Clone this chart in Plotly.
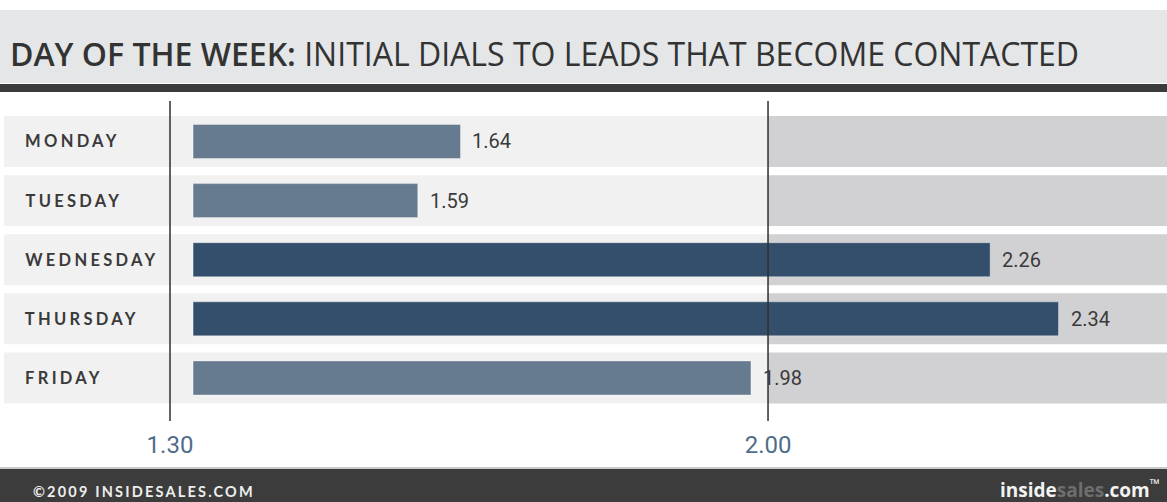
import plotly.graph_objects as go

# ---- data ----
days = ["MONDAY", "TUESDAY", "WEDNESDAY", "THURSDAY", "FRIDAY"]
values = [1.64, 1.59, 2.26, 2.34, 1.98]
value_labels = ["1.64", "1.59", "2.26", "2.34", "1.98"]
highlight = [False, False, True, True, False]
tick_values = [1.30, 2.00]
tick_labels = ["1.30", "2.00"]
title_bold = "DAY OF THE WEEK:"
title_rest = " INITIAL DIALS TO LEADS THAT BECOME CONTACTED"
footer_left = "©2009 INSIDESALES.COM"

# ---- layout constants ----
W, H = 1167, 502
BASE = 1.327
X_RANGE = [1.101, 2.467]
PLOT_BOTTOM_PX = 428
Y_RANGE = [4.846, -2.393]
LIGHT = "#667b8f"
DARK = "#344f6c"
DAY_SPACING = 3.3
FOOT_SPACING = 2.2

def px2x(px):
    return X_RANGE[0] + (X_RANGE[1] - X_RANGE[0]) * px / W

def py(px):
    return 1 - px / H

fig = go.Figure()
fig.add_trace(go.Bar(
    orientation="h",
    y=days,
    x=[v - BASE for v in values],
    base=BASE,
    width=0.575,
    marker=dict(color=[DARK if h else LIGHT for h in highlight],
                line=dict(color="rgba(255,255,255,0.35)", width=1)),
    hoverinfo="skip",
))

shapes = []
# title band
shapes.append(dict(type="rect", xref="paper", yref="paper", x0=0, x1=1, y0=py(83), y1=py(10),
                   fillcolor="#e4e6e7", line_width=0, layer="below"))
shapes.append(dict(type="rect", xref="paper", yref="paper", x0=0, x1=1, y0=py(92), y1=py(84),
                   fillcolor="#3b3b3b", line_width=0, layer="below"))
# footer band
shapes.append(dict(type="rect", xref="paper", yref="paper", x0=0, x1=1, y0=py(469), y1=py(467),
                   fillcolor="#c9c9c9", line_width=0, layer="below"))
shapes.append(dict(type="rect", xref="paper", yref="paper", x0=0, x1=1, y0=0, y1=py(469),
                   fillcolor="#3c3c3c", line_width=0, layer="below"))
# row backgrounds
for i, d in enumerate(days):
    shapes.append(dict(type="rect", xref="x", yref="y", x0=px2x(4), x1=2.00,
                       y0=i - 0.431, y1=i + 0.431, fillcolor="#f1f1f1", line_width=0, layer="below"))
    shapes.append(dict(type="rect", xref="x", yref="y", x0=2.00, x1=X_RANGE[1],
                       y0=i - 0.431, y1=i + 0.431, fillcolor="#d1d1d3", line_width=0, layer="below"))
# reference lines
for tv in tick_values:
    shapes.append(dict(type="line", xref="x", yref="paper", x0=tv, x1=tv, y0=py(421), y1=py(101),
                       line=dict(color="#2f2f2f", width=1.5), layer="above"))

annotations = []
# title
annotations.append(dict(xref="paper", yref="paper", x=8 / W, y=py(53), xanchor="left", yanchor="middle",
                        text=f"<span style='font-weight:600'>{title_bold}</span>{title_rest}", showarrow=False,
                        font=dict(family="Open Sans", size=32, color="#333333")))
# day labels
for d in days:
    annotations.append(dict(xref="paper", yref="y", x=23 / W, y=d, xanchor="left", yanchor="middle",
                            xshift=len(d) * DAY_SPACING / 2,
                            text=f"<b>{d}</b>", showarrow=False,
                            font=dict(family="Lato", size=16.5, color="#3a3a3a")))
# value labels
for d, v, t in zip(days, values, value_labels):
    annotations.append(dict(xref="x", yref="y", x=v, y=d, xanchor="left", yanchor="middle", xshift=10,
                            text=t, showarrow=False,
                            font=dict(family="Roboto", size=20, color="#3a3a3a")))
# footer
annotations.append(dict(xref="paper", yref="paper", x=31 / W, y=py(491), xanchor="left", yanchor="middle",
                        xshift=len(footer_left) * FOOT_SPACING / 2,
                        text=f"<b>{footer_left}</b>", showarrow=False,
                        font=dict(family="Lato", size=14.5, color="#eeeeee")))
annotations.append(dict(xref="paper", yref="paper", x=1162 / W, y=py(489), xanchor="right", yanchor="middle",
                        text="<b>inside<span style='color:#6e6e6e'>sales</span>.com</b><sup>™</sup>", showarrow=False,
                        font=dict(family="Open Sans", size=19, color="#f2f2f2")))

fig.update_layout(
    width=W, height=H,
    margin=dict(l=0, r=0, t=0, b=0),
    paper_bgcolor="#ffffff", plot_bgcolor="rgba(0,0,0,0)",
    showlegend=False,
    shapes=shapes, annotations=annotations,
    xaxis=dict(range=X_RANGE, domain=[0, 1], showgrid=False, zeroline=False, showline=False,
               tickmode="array", tickvals=tick_values, ticktext=tick_labels, ticks="",
               tickfont=dict(family="Roboto", size=24, color="#4f6d8b"),
               fixedrange=True),
    yaxis=dict(type="category", categoryorder="array", categoryarray=days, range=Y_RANGE,
               domain=[1 - PLOT_BOTTOM_PX / H, 1], showgrid=False, zeroline=False, showticklabels=False,
               fixedrange=True),
)

post = """
document.body.style.margin = '0';
document.documentElement.style.margin = '0';
var s = document.createElement('style');
s.innerHTML = '.annotation[data-index="1"] text, .annotation[data-index="2"] text, .annotation[data-index="3"] text, .annotation[data-index="4"] text, .annotation[data-index="5"] text {letter-spacing: %spx;} .annotation[data-index="11"] text {letter-spacing: %spx;}';
document.head.appendChild(s);
""" % (DAY_SPACING, FOOT_SPACING)
fig.write_html("out.html", post_script=post, config={"displayModeBar": False})
